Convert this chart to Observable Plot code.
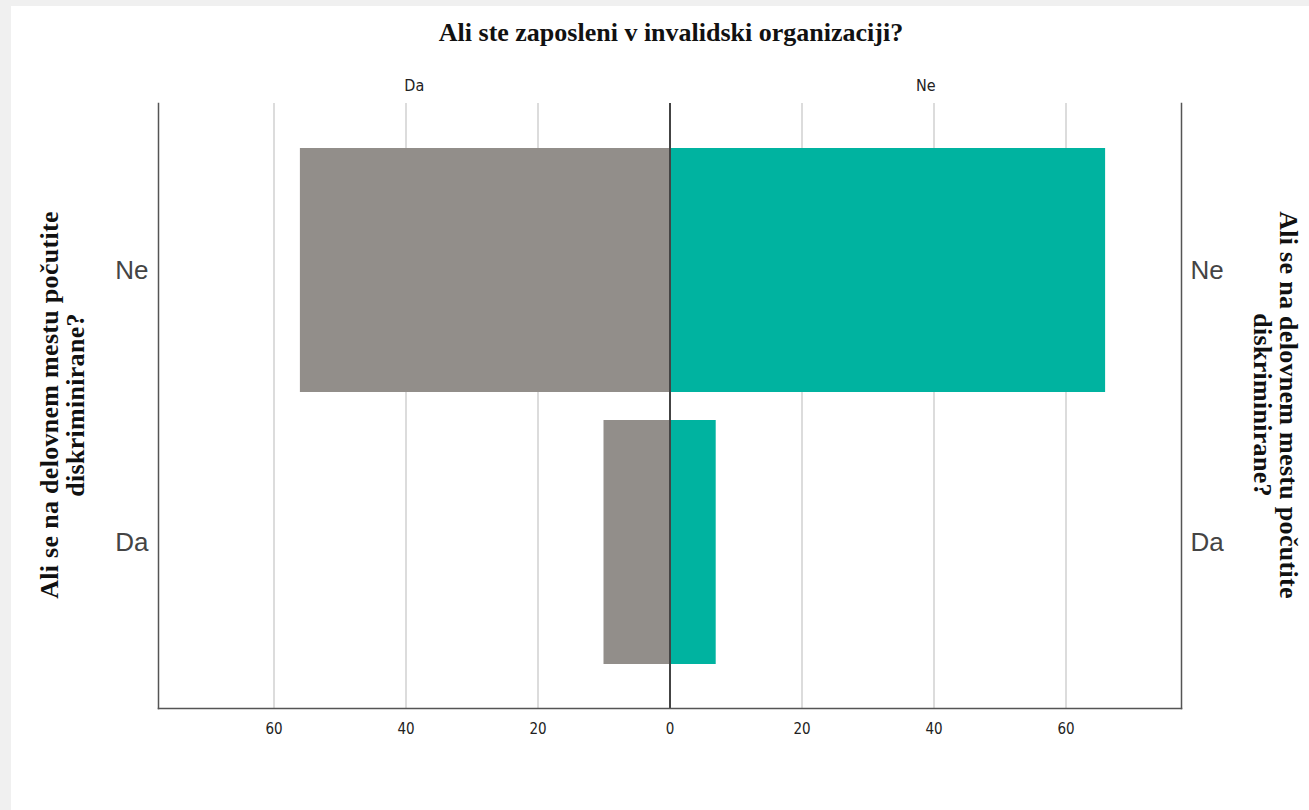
<!DOCTYPE html>
<html><head><meta charset="utf-8">
<script src="https://cdn.jsdelivr.net/npm/d3@7"></script>
<script src="https://cdn.jsdelivr.net/npm/@observablehq/plot@0.6"></script>
<style>
html,body{margin:0;padding:0}
body{background:#f0f0f0;width:1309px;height:810px;overflow:hidden;position:relative}
#panel{position:absolute;left:11px;top:6px;width:1298px;height:804px;background:#fff}
#chart{position:absolute;left:11px;top:6px}
.ttl{position:absolute;font-family:"Liberation Serif","Times New Roman",serif;font-weight:bold;color:#111;white-space:nowrap}
#title{left:671px;top:33px;font-size:26px;transform:translate(-50%,-50%)}
.ytitle{font-size:26px;line-height:26px;letter-spacing:0.3px;text-align:center}
#ytl{left:63px;top:405px;transform:translate(-50%,-50%) rotate(-90deg)}
#ytr{left:1275px;top:405px;transform:translate(-50%,-50%) rotate(90deg)}
</style>
</head><body>
<div id="panel"></div>
<div id="chart"></div>
<div class="ttl" id="title">Ali ste zaposleni v invalidski organizaciji?</div>
<div class="ttl ytitle" id="ytl">Ali se na delovnem mestu počutite<br>diskriminirane?</div>
<div class="ttl ytitle" id="ytr">Ali se na delovnem mestu počutite<br>diskriminirane?</div>
<script>
// Rows: "Ali se na delovnem mestu počutite diskriminirane?"
const rows = ["Ne", "Da"];
// Sides: "Ali ste zaposleni v invalidski organizaciji?"
const groups = ["Da", "Ne"];
const countsDa = [56, 10];   // employed in org = Da (left), per row
const countsNe = [66, 7];    // employed in org = Ne (right), per row
const xTicks = [-60, -40, -20, 0, 20, 40, 60];
const xMax = 77.5;
const colors = ["#928e8a", "#00b3a0"];

const data = [];
rows.forEach((r, i) => {
  data.push({row: r, group: "Da", v: -countsDa[i]});
  data.push({row: r, group: "Ne", v: countsNe[i]});
});
const sideLabels = groups.map((g, i) => ({g, x: (i === 0 ? -1 : 1) * xMax / 2}));

const narrow = "'Liberation Sans Narrow','DejaVu Sans Condensed','Liberation Sans',sans-serif";

const chart = Plot.plot({
  width: 1298, height: 804,
  marginLeft: 147, marginRight: 128, marginTop: 97, marginBottom: 102,
  style: {background: "transparent", color: "#222"},
  x: {domain: [-xMax, xMax]},
  y: {domain: rows, paddingInner: 0.103, paddingOuter: 0.1635},
  color: {domain: groups, range: colors},
  marks: [
    Plot.ruleX(xTicks.filter(d => d !== 0), {stroke: "#d0d0d0", strokeWidth: 1.5}),
    Plot.barX(data, {x: "v", y: "row", fill: "group"}),
    Plot.ruleX([0], {stroke: "#444", strokeWidth: 2}),
    Plot.frame({anchor: "left", stroke: "#555", strokeWidth: 1.5}),
    Plot.frame({anchor: "right", stroke: "#555", strokeWidth: 1.5}),
    Plot.frame({anchor: "bottom", stroke: "#555", strokeWidth: 1.5}),
    Plot.axisX({anchor: "bottom", ticks: xTicks, tickFormat: d => Math.abs(d), tickSize: 0, tickPadding: 15, fontSize: 15, fontFamily: narrow, label: null}),
    Plot.axisY({anchor: "left", tickSize: 0, tickPadding: 10, fontSize: 26, fill: "#444", fontFamily: "'Liberation Sans',Arial,sans-serif", label: null}),
    Plot.axisY({anchor: "right", tickSize: 0, tickPadding: 9, fontSize: 26, fill: "#444", fontFamily: "'Liberation Sans',Arial,sans-serif", label: null}),
    Plot.text(sideLabels, {x: "x", text: "g", frameAnchor: "top", dy: -24, fontSize: 16, fontFamily: narrow, fill: "#222"})
  ]
});
document.getElementById("chart").appendChild(chart);
</script>
</body></html>
